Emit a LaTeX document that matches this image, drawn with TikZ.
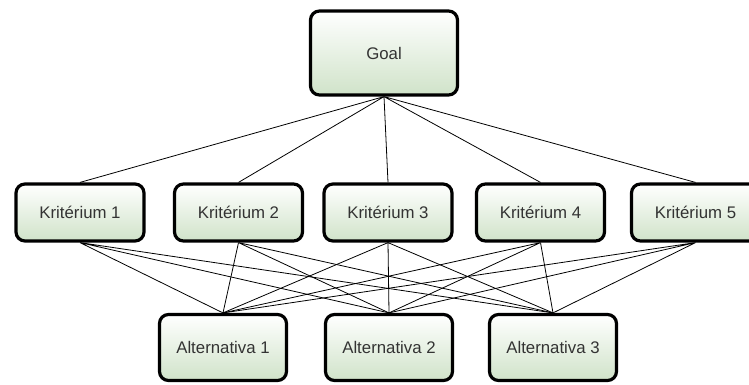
\documentclass[tikz,border=0pt]{standalone}
\usepackage{fontspec}
\setmainfont{Liberation Sans}
\definecolor{boxgreen}{RGB}{208,227,201}

\begin{document}
\begin{tikzpicture}[x=1pt,y=-1pt,node distance=152pt,
  box/.style={draw, line width=3.2pt, rounded corners=9pt, inner sep=0pt,
    top color=white, bottom color=boxgreen, text=black!80,
    font=\fontsize{16.8}{19}\selectfont},
  goalbox/.style={box, minimum width=147pt, minimum height=84pt},
  kritbox/.style={box, minimum width=128pt, minimum height=57pt},
  altbox/.style={box, minimum width=127pt, minimum height=66pt},
  link/.style={line width=0.8pt}]
  \useasboundingbox (0,0) rectangle (749,384);

  \node[goalbox] (goal) at (384,53) {Goal};

  \node[kritbox] (k1) at (80,212.5) {Kritérium 1};
  \node[kritbox, right of=k1, node distance=158.5pt] (k2) {Kritérium 2};
  \node[kritbox, right of=k2, node distance=149.5pt] (k3) {Kritérium 3};
  \node[kritbox, right of=k3, node distance=152.5pt] (k4) {Kritérium 4};
  \node[kritbox, right of=k4, node distance=155pt] (k5) {Kritérium 5};

  \node[altbox] (a2) at (389,347.5) {Alternativa 2};
  \node[altbox, left of=a2, node distance=166pt] (a1) {Alternativa 1};
  \node[altbox, right of=a2, node distance=164pt] (a3) {Alternativa 3};

  \draw[link] (goal.south) -- (k1.north) (goal.south) -- (k2.north)
    (goal.south) -- (k3.north) (goal.south) -- (k4.north)
    (goal.south) -- (k5.north);

  \draw[link] (k1.south) -- (a1.north) (k1.south) -- (a2.north) (k1.south) -- (a3.north);
  \draw[link] (k2.south) -- (a1.north) (k2.south) -- (a2.north) (k2.south) -- (a3.north);
  \draw[link] (k3.south) -- (a1.north) (k3.south) -- (a2.north) (k3.south) -- (a3.north);
  \draw[link] (k4.south) -- (a1.north) (k4.south) -- (a2.north) (k4.south) -- (a3.north);
  \draw[link] (k5.south) -- (a1.north) (k5.south) -- (a2.north) (k5.south) -- (a3.north);
\end{tikzpicture}
\end{document}
